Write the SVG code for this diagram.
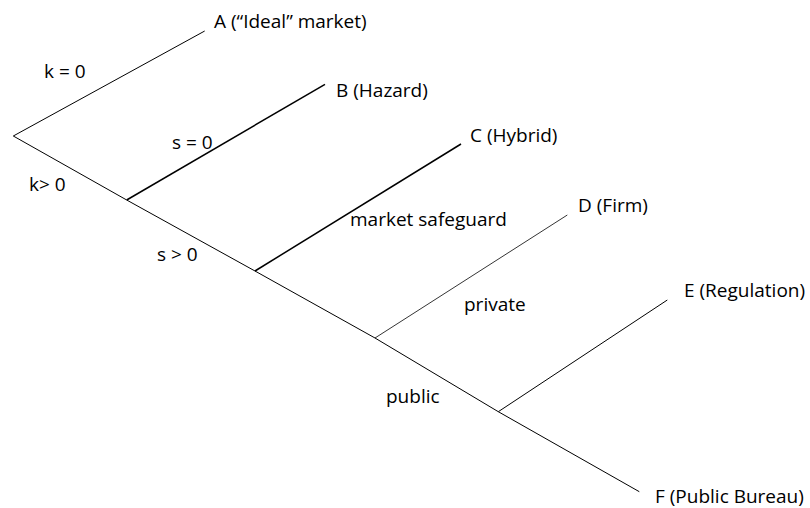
<svg xmlns="http://www.w3.org/2000/svg" width="810" height="508" viewBox="0 0 810 508">
<style>
text{font-family:"Open Sans","Liberation Sans",Arial,sans-serif;font-size:19px;fill:#000}
.ln{stroke:#000;stroke-width:1;fill:none}
.thk{stroke-width:1.5}
.thn{stroke-width:0.8}
</style>
<rect width="810" height="508" fill="#fff"/>
<g id="connectors">
<line class="ln" x1="13.3" y1="136" x2="204.7" y2="31"/>
<polyline class="ln" points="13.3,136 126.7,200 255,271 375,338 498.3,411.7 639.3,491.7"/>
<line class="ln thk" x1="126.7" y1="200" x2="325" y2="84.3"/>
<line class="ln thk" x1="255" y1="271" x2="461" y2="144"/>
<line class="ln thn" x1="375" y1="338" x2="567.3" y2="215"/>
<line class="ln" x1="498.3" y1="411.7" x2="667.3" y2="300"/>
</g>
<g id="nodeA"><text x="214" y="28">A (“Ideal” market)</text></g>
<g id="nodeB"><text x="336" y="96.5">B (Hazard)</text></g>
<g id="nodeC"><text x="470" y="141.5">C (Hybrid)</text></g>
<g id="nodeD"><text x="578" y="211.5">D (Firm)</text></g>
<g id="nodeE"><text x="684" y="296.5">E (Regulation)</text></g>
<g id="nodeF"><text x="655" y="503">F (Public Bureau)</text></g>
<g id="labels">
<text x="44" y="78">k = 0</text>
<text x="172" y="149">s = 0</text>
<text x="29" y="191">k&gt; 0</text>
<text x="157" y="261">s &gt; 0</text>
<text x="350" y="225.5">market safeguard</text>
<text x="464" y="310.5">private</text>
<text x="386" y="403">public</text>
</g>
</svg>
